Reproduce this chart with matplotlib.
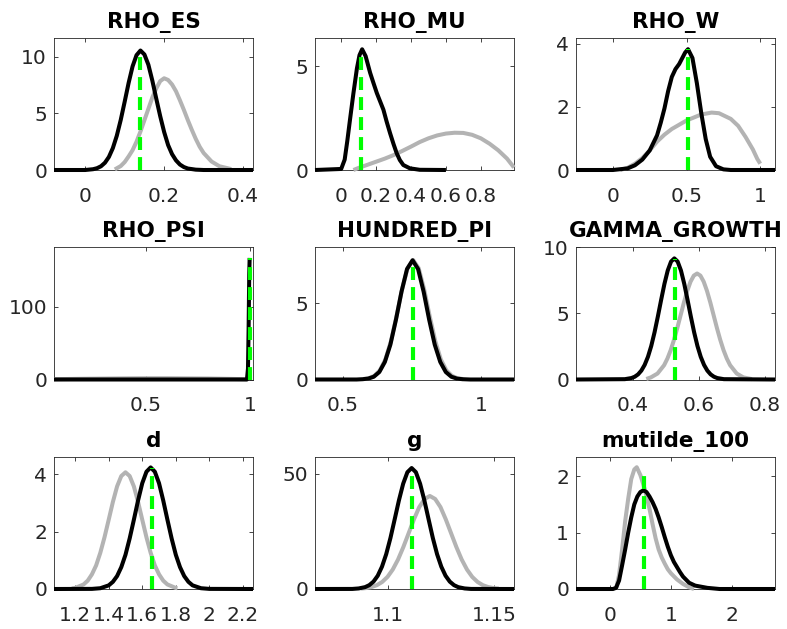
import matplotlib
matplotlib.use('Agg')
import matplotlib.pyplot as plt
from matplotlib.ticker import FixedLocator, FixedFormatter

# ---------------- data ----------------
titles = ['RHO_ES', 'RHO_MU', 'RHO_W', 'RHO_PSI', 'HUNDRED_PI',
          'GAMMA_GROWTH', 'd', 'g', 'mutilde_100']

# RHO_ES
rho_es_post_x = [-0.079, 0.0, 0.02, 0.03, 0.04, 0.05, 0.06, 0.07, 0.08, 0.09, 0.10, 0.11, 0.12, 0.13, 0.14,
                 0.15, 0.16, 0.17, 0.18, 0.19, 0.20, 0.21, 0.22, 0.23, 0.24, 0.25, 0.26, 0.28, 0.30, 0.425]
rho_es_post_y = [0, 0, 0.07, 0.16, 0.33, 0.64, 1.15, 1.93, 3.02, 4.42, 6.03, 7.69, 9.15, 10.14, 10.55,
                 10.2, 9.3, 7.9, 6.3, 4.75, 3.35, 2.2, 1.4, 0.85, 0.48, 0.26, 0.13, 0.03, 0.0, 0]
rho_es_prior_x = [0.075, 0.09, 0.10, 0.11, 0.12, 0.13, 0.14, 0.15, 0.16, 0.17, 0.18, 0.19, 0.20,
                  0.21, 0.22, 0.23, 0.24, 0.25, 0.26, 0.27, 0.28, 0.29, 0.30, 0.32, 0.34, 0.37]
rho_es_prior_y = [0.05, 0.35, 0.7, 1.2, 1.75, 2.5, 3.4, 4.4, 5.4, 6.4, 7.2, 7.85, 8.1,
                  7.95, 7.55, 6.95, 6.15, 5.3, 4.4, 3.55, 2.75, 2.05, 1.5, 0.75, 0.33, 0.08]

# RHO_MU
rho_mu_post_x = [-0.15, 0.0, 0.02, 0.035, 0.05, 0.07, 0.09, 0.105, 0.12, 0.14, 0.166, 0.185, 0.204,
                 0.242, 0.26, 0.28, 0.30, 0.318, 0.336, 0.356, 0.394, 0.45, 0.6]
rho_mu_post_y = [0, 0.05, 0.5, 1.4, 2.4, 3.7, 4.9, 5.55, 5.83, 5.5, 4.69, 4.2, 3.72,
                 2.91, 2.35, 1.78, 1.25, 0.81, 0.48, 0.24, 0.08, 0.01, 0]
rho_mu_prior_x = [0.07, 0.1, 0.15, 0.2, 0.25, 0.3, 0.35, 0.4, 0.45, 0.5, 0.55, 0.6, 0.65, 0.7,
                  0.75, 0.8, 0.85, 0.9, 0.95, 0.99]
rho_mu_prior_y = [0.0, 0.1, 0.25, 0.4, 0.55, 0.72, 0.92, 1.13, 1.35, 1.53, 1.67, 1.76, 1.8, 1.79,
                  1.7, 1.53, 1.27, 0.95, 0.55, 0.12]

# RHO_W
rho_w_post_x = [-0.25, 0.0, 0.1, 0.15, 0.2, 0.25, 0.3, 0.325, 0.35, 0.375, 0.4, 0.425, 0.45, 0.49,
                0.51, 0.54, 0.57, 0.6, 0.63, 0.66, 0.7, 0.75, 0.8, 1.1]
rho_w_post_y = [0, 0.0, 0.05, 0.15, 0.33, 0.62, 1.1, 1.5, 1.95, 2.5, 2.95, 3.2, 3.36, 3.72,
                3.83, 3.55, 2.75, 1.8, 0.98, 0.42, 0.12, 0.02, 0, 0]
rho_w_prior_x = [0.05, 0.1, 0.15, 0.2, 0.25, 0.3, 0.35, 0.4, 0.5, 0.6, 0.67, 0.72, 0.8, 0.85,
                 0.9, 0.95, 0.98, 1.0]
rho_w_prior_y = [0, 0.07, 0.2, 0.38, 0.62, 0.9, 1.12, 1.3, 1.57, 1.76, 1.82, 1.8, 1.62, 1.4,
                 1.05, 0.65, 0.35, 0.2]

# RHO_PSI
rho_psi_post_x = [0.0625, 0.985, 0.99, 0.993, 0.996, 0.998]
rho_psi_post_y = [0, 0, 15, 70, 145, 167]
rho_psi_prior_x = [0.0625, 0.2, 0.4, 0.5, 0.6, 0.8, 0.95, 0.985]
rho_psi_prior_y = [0.4, 1.0, 1.6, 1.8, 1.8, 1.4, 0.6, 0.3]

# HUNDRED_PI
hundred_pi_post_x = [0.4, 0.55, 0.572, 0.592, 0.612, 0.632, 0.652, 0.672, 0.692, 0.712, 0.732, 0.752,
                     0.772, 0.792, 0.812, 0.832, 0.852, 0.872, 0.892, 0.912, 0.932, 0.96, 1.118]
hundred_pi_post_y = [0, 0.0, 0.02, 0.06, 0.18, 0.49, 1.15, 2.29, 3.92, 5.76, 7.25, 7.83,
                     7.25, 5.76, 3.92, 2.29, 1.15, 0.49, 0.18, 0.06, 0.02, 0.0, 0]
hundred_pi_prior_x = [0.574, 0.594, 0.614, 0.634, 0.654, 0.674, 0.694, 0.714, 0.734, 0.754, 0.774,
                      0.794, 0.814, 0.834, 0.854, 0.874, 0.894, 0.914, 0.934]
hundred_pi_prior_y = [0.03, 0.08, 0.24, 0.6, 1.32, 2.52, 4.14, 5.91, 7.31, 7.85, 7.31,
                      5.91, 4.14, 2.52, 1.32, 0.6, 0.24, 0.08, 0.03]

# GAMMA_GROWTH
gamma_post_x = [0.227, 0.375, 0.395, 0.405, 0.415, 0.425, 0.435, 0.445, 0.455, 0.465, 0.475, 0.485,
                0.495, 0.505, 0.515, 0.525, 0.535, 0.545, 0.555, 0.565, 0.575, 0.585, 0.595, 0.605,
                0.615, 0.625, 0.635, 0.645, 0.655, 0.675, 0.83]
gamma_post_y = [0, 0.025, 0.11, 0.21, 0.385, 0.67, 1.10, 1.71, 2.53, 3.56, 4.75, 6.01,
                7.22, 8.23, 8.90, 9.14, 8.90, 8.23, 7.22, 6.01, 4.75, 3.56, 2.53, 1.71,
                1.10, 0.67, 0.385, 0.21, 0.11, 0.025, 0]
gamma_prior_x = [0.44, 0.454, 0.474, 0.494, 0.504, 0.514, 0.524, 0.534, 0.544, 0.554, 0.564, 0.574,
                 0.584, 0.594, 0.604, 0.614, 0.624, 0.634, 0.644, 0.654, 0.664, 0.674, 0.684, 0.694,
                 0.714, 0.734, 0.76]
gamma_prior_y = [0.04, 0.16, 0.45, 1.08, 1.58, 2.22, 3.0, 3.89, 4.85, 5.81, 6.68, 7.38,
                 7.84, 8.0, 7.84, 7.38, 6.68, 5.81, 4.85, 3.89, 3.0, 2.22, 1.58, 1.08,
                 0.45, 0.16, 0.03]

# d
d_post_x = [1.074, 1.3, 1.35, 1.4, 1.425, 1.45, 1.475, 1.5, 1.525, 1.55, 1.575, 1.6, 1.625, 1.65,
            1.675, 1.7, 1.725, 1.75, 1.775, 1.8, 1.825, 1.85, 1.875, 1.9, 1.95, 2.0, 2.26]
d_post_y = [0, 0.004, 0.027, 0.126, 0.25, 0.45, 0.76, 1.19, 1.76, 2.41, 3.08, 3.68, 4.08, 4.23,
            4.08, 3.68, 3.08, 2.41, 1.76, 1.19, 0.76, 0.45, 0.25, 0.126, 0.027, 0.004, 0]
d_prior_x = [1.18, 1.2, 1.25, 1.275, 1.3, 1.325, 1.35, 1.375, 1.4, 1.425, 1.45, 1.475, 1.5,
             1.525, 1.55, 1.575, 1.6, 1.625, 1.65, 1.675, 1.7, 1.725, 1.75, 1.8, 1.81]
d_prior_y = [0.02, 0.037, 0.157, 0.29, 0.51, 0.82, 1.26, 1.80, 2.41, 3.03, 3.57, 3.93, 4.06,
             3.93, 3.57, 3.03, 2.41, 1.80, 1.26, 0.82, 0.51, 0.29, 0.157, 0.037, 0.028]

# g
g_post_x = [1.0654, 1.083, 1.086, 1.089, 1.091, 1.093, 1.095, 1.097, 1.099, 1.101, 1.103, 1.105,
            1.107, 1.109, 1.111, 1.113, 1.115, 1.117, 1.119, 1.121, 1.123, 1.125, 1.127, 1.129,
            1.131, 1.133, 1.136, 1.139, 1.1593]
g_post_y = [0, 0.03, 0.24, 0.80, 1.66, 3.2, 5.75, 9.66, 15.1, 22.1, 30.2, 38.4,
            45.6, 50.6, 52.4, 50.6, 45.6, 38.4, 30.2, 22.1, 15.1, 9.66, 5.75, 3.2,
            1.66, 0.80, 0.24, 0.03, 0]
g_prior_x = [1.0871, 1.0896, 1.0921, 1.0946, 1.0971, 1.0996, 1.1021, 1.1046, 1.1071, 1.1096,
             1.1121, 1.1146, 1.1171, 1.1196, 1.1221, 1.1246, 1.1271, 1.1296, 1.1321, 1.1346,
             1.1371, 1.1396, 1.1421, 1.1446, 1.1471, 1.1496, 1.1521]
g_prior_y = [0.18, 0.41, 0.85, 1.66, 3.05, 5.23, 8.45, 12.8, 18.2, 24.2,
             30.2, 35.5, 39.0, 40.3, 39.0, 35.5, 30.2, 24.2, 18.2, 12.8,
             8.45, 5.23, 3.05, 1.66, 0.85, 0.41, 0.18]

# mutilde_100
mu_post_x = [-0.557, 0.05, 0.1, 0.15, 0.2, 0.25, 0.3, 0.35, 0.4, 0.45, 0.5, 0.55,
             0.6, 0.65, 0.7, 0.75, 0.8, 0.85, 0.9, 0.95, 1.0,
             1.05, 1.1, 1.15, 1.2, 1.3, 1.4, 1.5, 1.6, 1.7, 1.8, 2.71]
mu_post_y = [0, 0, 0.02, 0.15, 0.42, 0.7, 1.0, 1.27, 1.5, 1.64, 1.72, 1.75,
             1.72, 1.64, 1.54, 1.42, 1.27, 1.1, 0.92, 0.75, 0.6,
             0.48, 0.39, 0.3, 0.22, 0.11, 0.06, 0.04, 0.02, 0.01, 0, 0]
mu_prior_x = [0.1, 0.15, 0.2, 0.25, 0.3, 0.35, 0.4, 0.44, 0.5, 0.55, 0.6, 0.65, 0.7, 0.75,
              0.8, 0.85, 0.9, 0.95, 1.0, 1.1, 1.2, 1.3, 1.38]
mu_prior_y = [0.0, 0.25, 0.7, 1.2, 1.6, 1.95, 2.12, 2.16, 2.02, 1.85, 1.65, 1.42, 1.15, 0.9,
              0.7, 0.56, 0.45, 0.35, 0.28, 0.17, 0.09, 0.03, 0.0]

post_x = [rho_es_post_x, rho_mu_post_x, rho_w_post_x, rho_psi_post_x, hundred_pi_post_x,
          gamma_post_x, d_post_x, g_post_x, mu_post_x]
post_y = [rho_es_post_y, rho_mu_post_y, rho_w_post_y, rho_psi_post_y, hundred_pi_post_y,
          gamma_post_y, d_post_y, g_post_y, mu_post_y]
prior_x = [rho_es_prior_x, rho_mu_prior_x, rho_w_prior_x, rho_psi_prior_x, hundred_pi_prior_x,
           gamma_prior_x, d_prior_x, g_prior_x, mu_prior_x]
prior_y = [rho_es_prior_y, rho_mu_prior_y, rho_w_prior_y, rho_psi_prior_y, hundred_pi_prior_y,
           gamma_prior_y, d_prior_y, g_prior_y, mu_prior_y]

# posterior mode (green dashed line): location and height
mode_x = [0.14, 0.113, 0.507, 0.998, 0.754, 0.527, 1.661, 1.1114, 0.56]
mode_h = [10.6, 5.8, 3.83, 167, 7.8, 9.1, 4.2, 51.5, 2.11]

# axis limits and ticks
x_limits = [(-0.079, 0.425), (-0.15, 0.99), (-0.25, 1.10), (0.0625, 1.014), (0.40, 1.118),
            (0.227, 0.83), (1.074, 2.26), (1.0654, 1.1593), (-0.557, 2.71)]
y_limits = [(0, 11.7), (0, 6.4), (0, 4.2), (0, 182), (0, 8.7), (0, 10.0), (0, 4.61), (0, 57.4),
            (0, 2.35)]
x_ticks = [[0, 0.2, 0.4], [0, 0.2, 0.4, 0.6, 0.8], [0, 0.5, 1], [0.5, 1], [0.5, 1],
           [0.4, 0.6, 0.8], [1.2, 1.4, 1.6, 1.8, 2.0, 2.2], [1.1, 1.15], [0, 1, 2]]
x_tick_labels = [['0', '0.2', '0.4'], ['0', '0.2', '0.4', '0.6', '0.8'], ['0', '0.5', '1'],
                 ['0.5', '1'], ['0.5', '1'], ['0.4', '0.6', '0.8'],
                 ['1.2', '1.4', '1.6', '1.8', '2', '2.2'], ['1.1', '1.15'], ['0', '1', '2']]
y_ticks = [[0, 5, 10], [0, 5], [0, 2, 4], [0, 100], [0, 5], [0, 5, 10], [0, 2, 4], [0, 50],
           [0, 1, 2]]
y_tick_labels = [['0', '5', '10'], ['0', '5'], ['0', '2', '4'], ['0', '100'], ['0', '5'],
                 ['0', '5', '10'], ['0', '2', '4'], ['0', '50'], ['0', '1', '2']]

# ---------------- drawing ----------------
plt.rcParams['font.family'] = ['DejaVu Sans']

W, H = 787, 629
fig = plt.figure(figsize=(W / 100, H / 100), dpi=100)
fig.patch.set_facecolor('white')

col_left = [54, 315, 576]
row_bottom = [170, 379.5, 589]
ax_w, ax_h = 199, 132.5
axc = '#262626'

for i in range(9):
    r, c = divmod(i, 3)
    ax = fig.add_axes([col_left[c] / W, 1 - row_bottom[r] / H, ax_w / W, ax_h / H])
    ax.plot(prior_x[i], prior_y[i], color='#b3b3b3', lw=2.9, clip_on=False, zorder=3,
            solid_capstyle='butt')
    ax.plot(post_x[i], post_y[i], color='black', lw=2.9, clip_on=False, zorder=4,
            solid_capstyle='butt')
    ax.plot([mode_x[i], mode_x[i]], [0, mode_h[i]], color='#00ff00', lw=3.0,
            linestyle=(0, (3.1, 1.7)), clip_on=False, zorder=5)
    ax.set_xlim(*x_limits[i])
    ax.set_ylim(*y_limits[i])
    ax.xaxis.set_major_locator(FixedLocator(x_ticks[i]))
    ax.xaxis.set_major_formatter(FixedFormatter(x_tick_labels[i]))
    ax.yaxis.set_major_locator(FixedLocator(y_ticks[i]))
    ax.yaxis.set_major_formatter(FixedFormatter(y_tick_labels[i]))
    ax.tick_params(axis='both', direction='in', length=3, width=0.6, colors=axc,
                   top=True, right=True, labelsize=14.5)
    ax.tick_params(axis='x', pad=12)
    ax.tick_params(axis='y', pad=5)
    for sp in ax.spines.values():
        sp.set_color(axc)
        sp.set_linewidth(0.6)
    ax.set_title(titles[i], fontsize=15.5, fontweight='bold', pad=7, color='black')

fig.savefig('out.png', dpi=100, facecolor='white')
